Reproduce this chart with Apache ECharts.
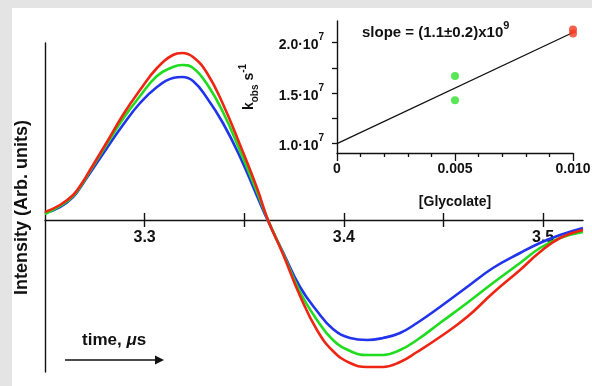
<!DOCTYPE html>
<html>
<head>
<meta charset="utf-8">
<script src="https://cdn.jsdelivr.net/npm/echarts@6/dist/echarts.min.js"></script>
<style>
  html, body { margin: 0; padding: 0; background: #e4e4e4; }
  #paper { position: absolute; left: 12px; top: 8px; width: 580px; height: 378px; background: #fff; }
  #chart { position: absolute; left: 0; top: 0; width: 592px; height: 386px; }
</style>
</head>
<body>
<div id="paper"></div>
<div id="chart"></div>
<script>
// main traces: time (µs) and intensity (arb. units)
const time = [3.2500, 3.2575, 3.2641, 3.2686, 3.2726, 3.2811, 3.2891, 3.2977, 3.3062, 3.3142, 3.3188,
  3.3243, 3.3313, 3.3393, 3.3479, 3.3564, 3.3619, 3.3694, 3.3780, 3.3865, 3.3945,
  3.4031, 3.4116, 3.4196, 3.4282, 3.4367, 3.4482, 3.4618, 3.4748, 3.4884, 3.4984,
  3.5085, 3.5200];
const redTrace = [0.8, 1.5, 2.5, 3.7, 5.0, 7.8, 10.5, 13.0, 15.2, 16.5, 16.7,
  16.3, 14.7, 11.6, 7.5, 3.2, 0, -3.4, -7.6, -11.0, -13.1,
  -14.3, -14.7, -14.7, -14.2, -13.2, -11.7, -9.7, -7.3, -5.0, -3.2,
  -1.8, -1.0];
const greenTrace = [0.6, 1.4, 2.4, 3.6, 4.9, 7.6, 10.1, 12.4, 14.4, 15.3, 15.5,
  15.2, 13.6, 10.8, 6.9, 2.8, 0, -3.3, -7.2, -10.0, -12.0,
  -13.1, -13.5, -13.5, -13.0, -12.0, -10.3, -8.3, -6.3, -4.3, -2.8,
  -1.8, -1.2];
const blueTrace = [0.7, 1.3, 2.3, 3.5, 4.7, 7.2, 9.5, 11.7, 13.3, 14.2, 14.3,
  13.9, 12.2, 9.7, 6.3, 2.4, -0.1, -3.2, -6.7, -9.1, -10.9,
  -11.8, -12.0, -11.8, -11.3, -10.3, -8.7, -6.7, -4.8, -3.3, -2.3,
  -1.5, -0.8];
const timeTicks = [3.3, 3.35, 3.4, 3.45, 3.5];
const timeLabels = [3.3, 3.4, 3.5];

// inset: k_obs vs [Glycolate]
const glyGreen = [0.005, 0.005];
const kobsGreen = [1.67e7, 1.43e7];
const glyRed = [0.010, 0.010];
const kobsRed = [2.13e7, 2.09e7];
const fitGly = [0, 0.010];
const fitKobs = [1.0e7, 2.1e7];
const kobsTicks = [1.0e7, 1.25e7, 1.5e7, 1.75e7, 2.0e7];
const kobsLabels = [1.0e7, 1.5e7, 2.0e7];

const FONT = '"Liberation Sans", Arial, sans-serif';
const INK = '#111';
const zip = (xs, ys) => xs.map((x, i) => [x, ys[i]]);

const chart = echarts.init(document.getElementById('chart'), null, { renderer: 'canvas' });

const trace = (name, data, color) => ({
  name, type: 'line', xAxisIndex: 0, yAxisIndex: 0,
  data: zip(time, data),
  smooth: 0.45, showSymbol: false, clip: false,
  lineStyle: { color, width: 2.6 },
  emphasis: { disabled: true }
});

const Y_MIN = -15.2, Y_MAX = 17.7;

chart.setOption({
  animation: false,
  textStyle: { fontFamily: FONT },
  grid: [
    // main plot
    { left: 45, top: 43, right: 9, bottom: 14, outerBoundsMode: 'none' },
    // inset
    { left: 337, top: 21, right: 19, bottom: 233, outerBoundsMode: 'none' },
    // upper half of the main plot, its bottom edge sits on the zero line and carries the time axis
    { left: 45, top: 43, right: 9, bottom: 166, outerBoundsMode: 'none' }
  ],
  xAxis: [
    {
      gridIndex: 0, type: 'value', min: 3.25, max: 3.52,
      axisLine: { show: false, onZero: true },
      axisTick: { customValues: timeTicks, inside: true, length: 7, lineStyle: { color: INK, width: 1.4 } },
      axisLabel: { show: false },
      splitLine: { show: false }
    },
    {
      gridIndex: 1, type: 'value', min: 0, max: 0.010, interval: 0.005,
      axisLine: { onZero: false, lineStyle: { color: INK, width: 1.4 } },
      axisTick: { length: 8, lineStyle: { color: INK, width: 1.3 } },
      minorTick: { show: true, splitNumber: 5, length: 4, lineStyle: { color: INK, width: 1.3 } },
      axisLabel: {
        margin: 9, color: INK, fontSize: 14, fontWeight: 'bold',
        formatter: v => (v === 0 ? '0' : v.toFixed(3))
      },
      splitLine: { show: false },
      name: '[Glycolate]', nameLocation: 'middle', nameGap: 42,
      nameTextStyle: { color: INK, fontSize: 14, fontWeight: 'bold' }
    },
    {
      gridIndex: 2, type: 'value', min: 3.25, max: 3.52, position: 'bottom',
      axisLine: { onZero: false, lineStyle: { color: INK, width: 1.4 } },
      axisTick: { customValues: timeTicks, length: 7, lineStyle: { color: INK, width: 1.4 } },
      axisLabel: {
        customValues: timeLabels, margin: 10, color: INK, fontSize: 16, fontWeight: 'bold',
        formatter: v => v.toFixed(1)
      },
      splitLine: { show: false }
    }
  ],
  yAxis: [
    {
      gridIndex: 0, type: 'value', min: Y_MIN, max: Y_MAX,
      axisLine: { show: true, onZero: false, lineStyle: { color: INK, width: 1.4 } },
      axisTick: { show: false }, axisLabel: { show: false }, splitLine: { show: false },
      name: 'Intensity (Arb. units)', nameLocation: 'middle', nameRotate: 90, nameGap: 14,
      nameTextStyle: { color: INK, fontSize: 18, fontWeight: 'bold' }
    },
    {
      gridIndex: 1, type: 'value', min: 0.907e7, max: 2.214e7,
      axisLine: { show: true, onZero: false, lineStyle: { color: INK, width: 1.4 } },
      axisTick: { customValues: kobsTicks, length: 5, lineStyle: { color: INK, width: 1.3 } },
      axisLabel: {
        customValues: kobsLabels, margin: 13, color: INK,
        formatter: v => '{m|' + (v / 1e7).toFixed(1) + '·10}{s|7}',
        rich: {
          m: { fontSize: 14, fontWeight: 'bold', color: INK, lineHeight: 20, verticalAlign: 'bottom' },
          s: { fontSize: 10, fontWeight: 'bold', color: INK, lineHeight: 12, verticalAlign: 'top' }
        }
      },
      splitLine: { show: false },
      name: '{m|k}{b|obs}{m| s}{s|-1}', nameLocation: 'middle', nameRotate: 90, nameGap: 77,
      nameTextStyle: {
        rich: {
          m: { fontSize: 14, fontWeight: 'bold', color: INK, lineHeight: 22, verticalAlign: 'middle' },
          b: { fontSize: 10, fontWeight: 'bold', color: INK, lineHeight: 12, verticalAlign: 'bottom' },
          s: { fontSize: 10, fontWeight: 'bold', color: INK, lineHeight: 12, verticalAlign: 'top' }
        }
      }
    },
    {
      gridIndex: 2, type: 'value', min: 0, max: Y_MAX, show: false
    }
  ],
  series: [
    trace('blue', blueTrace, '#2134ec'),
    trace('green', greenTrace, '#1fdc1f'),
    trace('red', redTrace, '#ef2513'),
    {
      name: 'fit', type: 'line', xAxisIndex: 1, yAxisIndex: 1,
      data: zip(fitGly, fitKobs), showSymbol: false,
      lineStyle: { color: INK, width: 1.3 }, emphasis: { disabled: true }
    },
    {
      name: 'green pts', type: 'scatter', xAxisIndex: 1, yAxisIndex: 1,
      data: zip(glyGreen, kobsGreen), symbolSize: 8, clip: false,
      itemStyle: { color: '#2fe02f' }, z: 3
    },
    {
      name: 'red pts', type: 'scatter', xAxisIndex: 1, yAxisIndex: 1,
      data: zip(glyRed, kobsRed), symbolSize: 8, clip: false,
      itemStyle: { color: '#f2391f' }, z: 3
    }
  ],
  graphic: [
    {
      type: 'text', left: 362, top: 20,
      style: {
        text: '{m|slope = (1.1±0.2)x10}{s|9}',
        rich: {
          m: { fontFamily: FONT, fontSize: 15, fontWeight: 'bold', fill: INK, lineHeight: 20, verticalAlign: 'bottom' },
          s: { fontFamily: FONT, fontSize: 11, fontWeight: 'bold', fill: INK, lineHeight: 12, verticalAlign: 'top' }
        }
      }
    },
    {
      type: 'text', left: 82, top: 332,
      style: {
        text: '{m|time, }{i|μ}{m|s}',
        rich: {
          m: { fontFamily: FONT, fontSize: 17, fontWeight: 'bold', fill: INK },
          i: { fontFamily: FONT, fontSize: 17, fontWeight: 'bold', fontStyle: 'italic', fill: INK }
        }
      }
    },
    {
      type: 'line', shape: { x1: 65, y1: 360, x2: 156, y2: 360 },
      style: { stroke: INK, lineWidth: 1.6 }
    },
    {
      type: 'polygon', shape: { points: [[155, 355.5], [164, 360], [155, 364.5]] },
      style: { fill: INK }
    }
  ]
});
</script>
</body>
</html>
